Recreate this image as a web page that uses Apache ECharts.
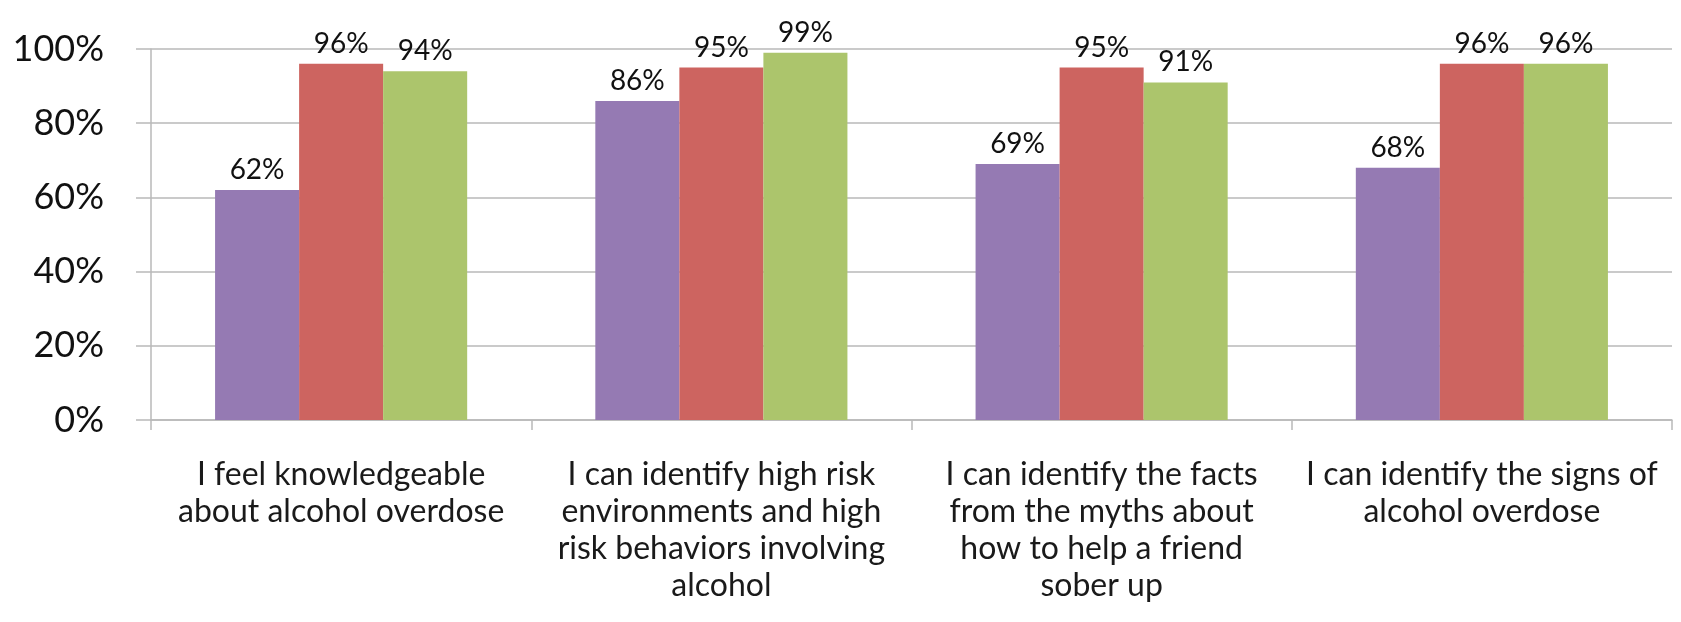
<!DOCTYPE html>
<html>
<head>
<meta charset="utf-8">
<script src="https://cdn.jsdelivr.net/npm/echarts@6/dist/echarts.min.js"></script>
<style>
    html, body { margin: 0; padding: 0; background: #fff; }
    #chart { width: 1681px; height: 622px; }
</style>
</head>
<body>
<div id="chart"></div>
<script>
// categories (line breaks as in the original)
const categories = [
    'I feel knowledgeable\nabout alcohol overdose',
    'I can identify high risk\nenvironments and high\nrisk behaviors involving\nalcohol',
    'I can identify the facts\nfrom the myths about\nhow to help a friend\nsober up',
    'I can identify the signs of\nalcohol overdose'
]
// three bars per category, values in %
const purpleValues = [62, 86, 69, 68]
const redValues = [96, 95, 95, 96]
const greenValues = [94, 99, 91, 96]
const yTicks = { min: 0, max: 100, interval: 20 }

const font = 'Lato, "Open Sans", sans-serif'
const gridColor = '#b9b9b9'

let myChart = echarts.init(document.getElementById('chart'))

const barLabel = {
    show: true,
    position: 'top',
    distance: 6,
    formatter: '{c}%',
    fontFamily: font,
    fontSize: 28,
    color: '#111'
}

const makeSeries = (name, data, color) => ({
    name: name,
    type: 'bar',
    data: data,
    barGap: 0,
    barCategoryGap: '33.7%',
    itemStyle: { color: color },
    label: barLabel
})

let baseOption = {
    animation: false,
    grid: {
        left: 151,
        right: 9,
        top: 49,
        bottom: 202
    },
    xAxis: {
        type: 'category',
        data: categories,
        axisLine: { show: true, lineStyle: { color: gridColor, width: 1.5 } },
        axisTick: { show: true, length: 10, alignWithLabel: false, lineStyle: { color: gridColor, width: 1.5 } },
        axisLabel: {
            interval: 0,
            margin: 36,
            fontFamily: font,
            fontSize: 32,
            lineHeight: 37,
            color: '#1a1a1a'
        }
    },
    yAxis: {
        type: 'value',
        min: yTicks.min,
        max: yTicks.max,
        interval: yTicks.interval,
        axisLine: { show: true, lineStyle: { color: gridColor, width: 1.5 } },
        axisTick: { show: true, inside: false, length: 15, lineStyle: { color: gridColor, width: 1.5 } },
        axisLabel: {
            formatter: '{value}%',
            margin: 47,
            fontFamily: font,
            fontSize: 36,
            color: '#111',
            padding: [18, 0, 0, 0]
        },
        splitLine: { show: true, lineStyle: { color: gridColor, width: 1.5 } }
    },
    series: [
        makeSeries('s1', purpleValues, '#957ab3'),
        makeSeries('s2', redValues, '#cd6460'),
        makeSeries('s3', greenValues, '#acc56c')
    ]
}

myChart.setOption(baseOption)
</script>
</body>
</html>
